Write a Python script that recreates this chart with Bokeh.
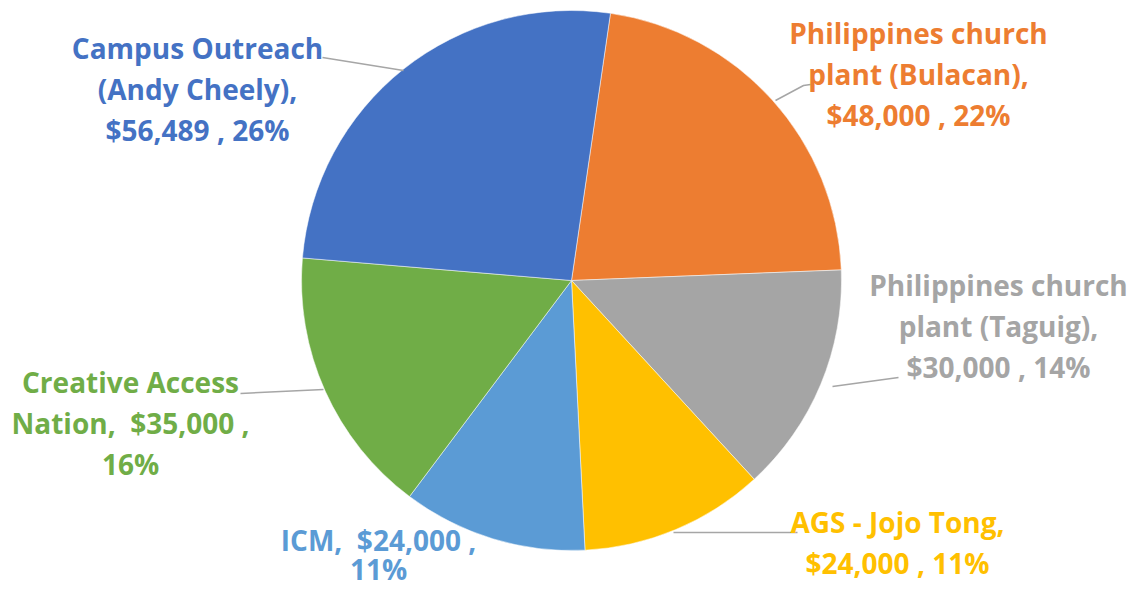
import math
from bokeh.plotting import figure
from bokeh.models import Range1d, ColumnDataSource
from bokeh.core.properties import value
from bokeh.embed import file_html
from bokeh.resources import INLINE

# ---- data ----
names = ["Philippines church plant (Bulacan)", "Philippines church plant (Taguig)",
         "AGS - Jojo Tong", "ICM", "Creative Access Nation", "Campus Outreach (Andy Cheely)"]
amounts = [48000, 30000, 24000, 24000, 35000, 56489]
percents = [22, 14, 11, 11, 16, 26]
colors = ["#ED7D31", "#A5A5A5", "#FFC000", "#5B9BD5", "#70AD47", "#4472C4"]
label_lines = [
    ["Philippines church", "plant (Bulacan),", "$48,000 , 22%"],
    ["Philippines church", "plant (Taguig),", "$30,000 , 14%"],
    ["AGS - Jojo Tong,", "$24,000 , 11%"],
    ["ICM,\u00a0 $24,000 ,", "11%"],
    ["Creative Access", "Nation,\u00a0 $35,000 ,", "16%"],
    ["Campus Outreach", "(Andy Cheely),", "$56,489 , 26%"],
]

W, H = 1129, 586
def Y(yref):
    return 602 - yref

p = figure(width=W, height=H, output_backend="svg", toolbar_location=None,
           x_range=Range1d(0, W), y_range=Range1d(602 - H, 602),
           min_border=0)
p.axis.visible = False
p.grid.visible = False
p.outline_line_color = None

cx, cy, r = 571, Y(280), 270
first_angle = 8.3  # degrees clockwise from 12 o'clock
total = sum(amounts)
starts, ends = [], []
acc = first_angle
for a in amounts:
    span = a / total * 360.0
    starts.append(math.radians(90 - acc))
    acc += span
    ends.append(math.radians(90 - acc))

src = ColumnDataSource(dict(start=starts, end=ends, color=colors))
p.wedge(x=cx, y=cy, radius=r, start_angle="start", end_angle="end",
        direction="clock", fill_color="color", line_color="white", line_width=0.5,
        source=src)

# leader lines (reference pixel coordinates)
leaders = [
    [(775, 100), (803, 85), (810, 84)],
    [(832, 386), (898, 377)],
    [(673, 532), (797, 532)],
    None,
    [(240, 393), (323, 389)],
    [(322, 57), (403, 70)],
]
for pts in leaders:
    if pts:
        p.line([q[0] for q in pts], [Y(q[1]) for q in pts], line_color="#A6A6A6", line_width=1.5)

label_pos = [(918, 32), (998, 284), (897, 521), (378, 539), (130, 381), (197, 47)]
steps = [41, 41, 41, 29, 41, 41]
tx, ty, tt, tc = [], [], [], []
for lines, (lx, ly), c, st in zip(label_lines, label_pos, colors, steps):
    for i, s in enumerate(lines):
        tx.append(lx)
        ty.append(Y(ly + i * st))
        tt.append(s)
        tc.append(c)
p.text(x=tx, y=ty, text=tt, text_color=tc, text_align="center", text_baseline="middle",
       text_font=value("Open Sans"), text_font_style="bold", text_font_size="28px")

open("out.html", "w").write(file_html(p, INLINE))
